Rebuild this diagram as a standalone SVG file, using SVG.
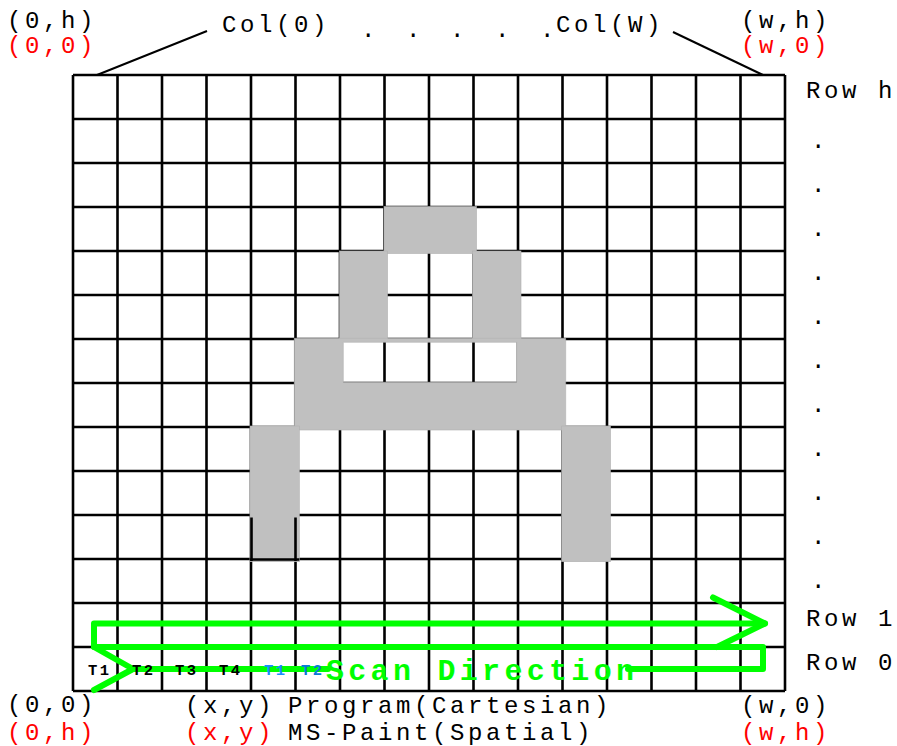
<svg xmlns="http://www.w3.org/2000/svg" width="897" height="746" viewBox="0 0 897 746">
<style>
.t{font-family:"Liberation Mono","DejaVu Sans Mono",monospace;font-size:24px;letter-spacing:3.6px;fill:#000}
.r{fill:#ff0000}
.tl{font-family:"Liberation Mono","DejaVu Sans Mono",monospace;font-size:15.5px;font-weight:bold;letter-spacing:2.4px;fill:#000}
.bl{fill:#1a8cff}
.bl2{fill:#0a78d8}
.scan{font-family:"Liberation Mono","DejaVu Sans Mono",monospace;font-size:30px;font-weight:bold;letter-spacing:4.3px;fill:#00ff00}
.grid{stroke:#000;stroke-width:2.6;fill:none}
.px{fill:#c0c0c0;stroke:#b0b0b0;stroke-width:0.6}
.lead{stroke:#000;stroke-width:2;fill:none}
.g{stroke:#00ff00;stroke-width:6;fill:none;stroke-linecap:round;stroke-linejoin:round}
</style>
<rect width="897" height="746" fill="#fff"/>
<g id="grid">
<path class="grid" d="M73,75V691M117.5,75V691M162,75V691M206.5,75V691M251,75V691M295.5,75V691M340,75V691M384.5,75V691M429,75V691M473.5,75V691M518,75V691M562.5,75V691M607,75V691M651.5,75V691M696,75V691M740.5,75V691M785,75V691
M73,75H785M73,119H785M73,163H785M73,207H785M73,251H785M73,295H785M73,339H785M73,383H785M73,427H785M73,471H785M73,515H785M73,559H785M73,603H785M73,647H785M73,691H785"/>
</g>
<g id="letter-A">
<rect class="px" x="384" y="206.5" width="92.5" height="47"/>
<rect class="px" x="339.5" y="251" width="48" height="90.5"/>
<rect class="px" x="472.5" y="251" width="48.5" height="90.5"/>
<path class="px" fill-rule="evenodd" d="M294.3,338.3H565.7V430H294.3Z M343.3,342.3V382.3H516.7V342.3Z"/>
<rect class="px" x="250" y="426" width="49.3" height="135.7"/>
<rect class="px" x="561.7" y="426" width="48.8" height="135.7"/>
<path class="grid" d="M251.5,517.5V561M295.5,517.5V561M250,559.5H299.3"/>
</g>
<g id="connectors">
<path class="lead" d="M207,31L97,75"/>
<path class="lead" d="M673,32L763,75"/>
<path class="g" d="M94,647L133,669L94,690"/>
<path class="g" d="M133,669H328"/>
<path class="g" d="M628,669H763V647H94V623.5H765"/>
<path class="g" d="M713,597.5L765,623.5L717,647"/>
</g>
<g id="labels">
<text class="t" x="7" y="28">(0,h)</text>
<text class="t r" x="7" y="53">(0,0)</text>
<text class="t" x="222" y="32">Col(0)</text>
<text class="t" x="361 406 450 495 540" y="37" style="letter-spacing:0">.....</text>
<text class="t" x="556" y="32">Col(W)</text>
<text class="t" x="741" y="28">(w,h)</text>
<text class="t r" x="741" y="53">(w,0)</text>
<text class="t" x="806" y="98">Row h</text>
<text class="t" x="811" y="147.5">.</text>
<text class="t" x="811" y="191.5">.</text>
<text class="t" x="811" y="235.5">.</text>
<text class="t" x="811" y="279.5">.</text>
<text class="t" x="811" y="323.5">.</text>
<text class="t" x="811" y="367.5">.</text>
<text class="t" x="811" y="411.5">.</text>
<text class="t" x="811" y="455.5">.</text>
<text class="t" x="811" y="499.5">.</text>
<text class="t" x="811" y="543.5">.</text>
<text class="t" x="811" y="587.5">.</text>
<text class="t" x="806" y="626">Row 1</text>
<text class="t" x="806" y="669.5">Row 0</text>
<text class="t" x="7" y="712">(0,0)</text>
<text class="t r" x="7" y="740">(0,h)</text>
<text class="t" x="185" y="713">(x,y)</text>
<text class="t r" x="185" y="740">(x,y)</text>
<text class="t" x="288" y="713">Program(Cartesian)</text>
<text class="t" x="288" y="740">MS-Paint(Spatial)</text>
<text class="t" x="741" y="713">(w,0)</text>
<text class="t r" x="741" y="740">(w,h)</text>
<text class="tl" x="88" y="675">T1</text>
<text class="tl" x="132" y="675">T2</text>
<text class="tl" x="175" y="675">T3</text>
<text class="tl" x="219" y="675">T4</text>
<text class="tl bl" x="264" y="675">T1</text>
<text class="tl bl2" x="301" y="675">T2</text>
<text class="scan" x="326" y="680">Scan Direction</text>
</g>
</svg>
